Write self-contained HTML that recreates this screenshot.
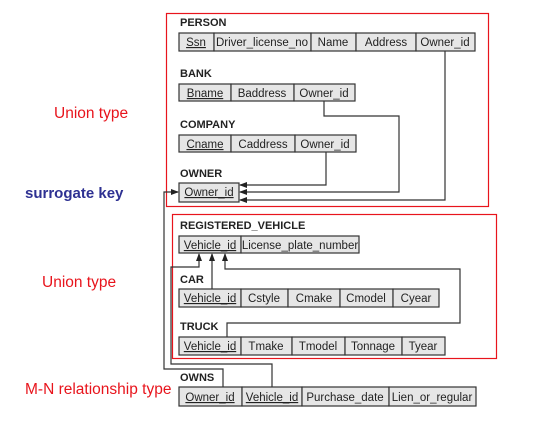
<!DOCTYPE html>
<html><head><style>
html,body{margin:0;padding:0;background:#fff;width:556px;height:423px;overflow:hidden}
svg text{font-family:"Liberation Sans",Arial,sans-serif}
.c{fill:#e6e6e6;stroke:#333;stroke-width:1.2}
.t{font-size:11.5px;fill:#222;text-anchor:middle}
.h{font-size:11px;font-weight:bold;fill:#222}
.l{fill:none;stroke:#333;stroke-width:1.2}
.r{font-size:15.5px;fill:#e8141c}
</style></head><body>
<svg width="556" height="423" viewBox="0 0 556 423" xmlns="http://www.w3.org/2000/svg">
<defs><marker id="a" markerWidth="8" markerHeight="6" refX="7" refY="3" orient="auto" markerUnits="userSpaceOnUse"><path d="M0,0 L8,3 L0,6 z" fill="#222"/></marker></defs>
<rect x="166.5" y="13.5" width="322" height="193" fill="none" stroke="#e8141c" stroke-width="1.2"/>
<rect x="172.5" y="214.5" width="324" height="144" fill="none" stroke="#e8141c" stroke-width="1.2"/>

<text class="r" x="54" y="118">Union type</text>
<text x="25" y="198" style="font-size:15px;font-weight:bold;fill:#2e3192">surrogate key</text>
<text class="r" x="42" y="287">Union type</text>
<text class="r" x="25" y="394">M-N relationship type</text>

<text class="h" x="180" y="26">PERSON</text>
<rect class="c" x="179" y="33" width="35" height="18"/><rect class="c" x="214" y="33" width="97" height="18"/><rect class="c" x="311" y="33" width="45" height="18"/><rect class="c" x="356" y="33" width="60" height="18"/><rect class="c" x="416" y="33" width="59" height="18"/>
<text class="t" x="196" y="46" text-decoration="underline">Ssn</text><text class="t" x="262" y="46">Driver_license_no</text><text class="t" x="333" y="46">Name</text><text class="t" x="386" y="46">Address</text><text class="t" x="445" y="46">Owner_id</text>

<text class="h" x="180" y="77">BANK</text>
<rect class="c" x="179" y="84" width="52" height="17"/><rect class="c" x="231" y="84" width="63" height="17"/><rect class="c" x="294" y="84" width="61" height="17"/>
<text class="t" x="205" y="97" text-decoration="underline">Bname</text><text class="t" x="262" y="97">Baddress</text><text class="t" x="324" y="97">Owner_id</text>

<text class="h" x="180" y="128">COMPANY</text>
<rect class="c" x="179" y="135" width="52" height="17"/><rect class="c" x="231" y="135" width="64" height="17"/><rect class="c" x="295" y="135" width="61" height="17"/>
<text class="t" x="205" y="148" text-decoration="underline">Cname</text><text class="t" x="263" y="148">Caddress</text><text class="t" x="325" y="148">Owner_id</text>

<text class="h" x="180" y="177">OWNER</text>
<rect class="c" x="179" y="183" width="60" height="19"/>
<text class="t" x="209" y="196" text-decoration="underline">Owner_id</text>

<path class="l" d="M326,152 V185 H240" marker-end="url(#a)"/>
<path class="l" d="M324,101 V116 H399 V192 H240" marker-end="url(#a)"/>
<path class="l" d="M445,51 V200 H240" marker-end="url(#a)"/>
<path class="l" d="M223,387 V369 H164 V192 H178" marker-end="url(#a)"/>

<text class="h" x="180" y="229">REGISTERED_VEHICLE</text>
<rect class="c" x="179" y="236" width="62" height="17"/><rect class="c" x="241" y="236" width="118" height="17"/>
<text class="t" x="210" y="249" text-decoration="underline">Vehicle_id</text><text class="t" x="300" y="249">License_plate_number</text>

<text class="h" x="180" y="283">CAR</text>
<rect class="c" x="179" y="289" width="62" height="18"/><rect class="c" x="241" y="289" width="47" height="18"/><rect class="c" x="288" y="289" width="52" height="18"/><rect class="c" x="340" y="289" width="53" height="18"/><rect class="c" x="393" y="289" width="46" height="18"/>
<text class="t" x="210" y="302" text-decoration="underline">Vehicle_id</text><text class="t" x="264" y="302">Cstyle</text><text class="t" x="314" y="302">Cmake</text><text class="t" x="366" y="302">Cmodel</text><text class="t" x="416" y="302">Cyear</text>

<text class="h" x="180" y="330">TRUCK</text>
<rect class="c" x="179" y="337" width="62" height="18"/><rect class="c" x="241" y="337" width="51" height="18"/><rect class="c" x="292" y="337" width="53" height="18"/><rect class="c" x="345" y="337" width="57" height="18"/><rect class="c" x="402" y="337" width="43" height="18"/>
<text class="t" x="210" y="350" text-decoration="underline">Vehicle_id</text><text class="t" x="266" y="350">Tmake</text><text class="t" x="318" y="350">Tmodel</text><text class="t" x="373" y="350">Tonnage</text><text class="t" x="423" y="350">Tyear</text>

<path class="l" d="M272,387 V364 H171 V267 H199 V254" marker-end="url(#a)"/>
<path class="l" d="M212,289 V254" marker-end="url(#a)"/>
<path class="l" d="M227,337 V323 H460 V269 H225 V254" marker-end="url(#a)"/>

<text class="h" x="180" y="381">OWNS</text>
<rect class="c" x="179" y="387" width="63" height="19"/><rect class="c" x="242" y="387" width="60" height="19"/><rect class="c" x="302" y="387" width="87" height="19"/><rect class="c" x="389" y="387" width="87" height="19"/>
<text class="t" x="210" y="401" text-decoration="underline">Owner_id</text><text class="t" x="272" y="401" text-decoration="underline">Vehicle_id</text><text class="t" x="345" y="401">Purchase_date</text><text class="t" x="432" y="401">Lien_or_regular</text>
</svg>
</body></html>
